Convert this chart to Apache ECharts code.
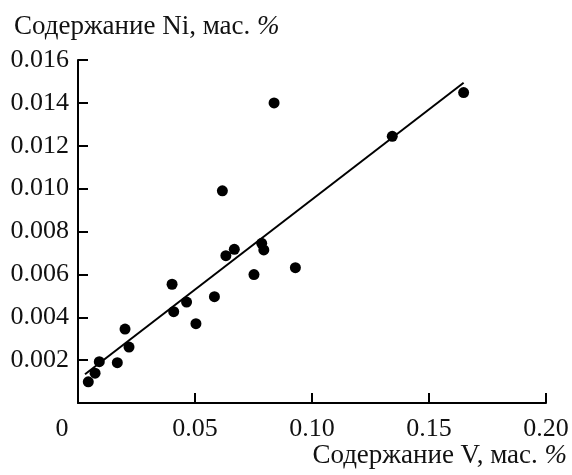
<!DOCTYPE html>
<html>
<head>
<meta charset="utf-8">
<script src="https://cdn.jsdelivr.net/npm/echarts@6/dist/echarts.min.js"></script>
<style>
  html, body { margin: 0; padding: 0; background: #fff; }
  #chart { width: 572px; height: 475px; }
</style>
</head>
<body>
<div id="chart"></div>
<script>
// Scatter data: V content vs Ni content (mass %)
const vValues = [0.0044, 0.0073, 0.0091, 0.0168, 0.0201, 0.0218, 0.0402, 0.0409, 0.0464, 0.0504,
  0.0583, 0.0617, 0.0632, 0.0668, 0.0752, 0.0785, 0.0794, 0.0838, 0.0929, 0.1343, 0.1648];
const niValues = [0.00099, 0.00139, 0.00193, 0.00188, 0.00345, 0.00261, 0.00554, 0.00426, 0.00471, 0.00370,
  0.00496, 0.00990, 0.00687, 0.00717, 0.00599, 0.00745, 0.00714, 0.01400, 0.00631, 0.01244, 0.01448];

// Regression line ends
const trendX = [0.003, 0.1648];
const trendY = [0.00134, 0.01494];

const xTicks = ["0", "0.05", "0.10", "0.15", "0.20"];

const font = '"Liberation Serif", "DejaVu Serif", serif';
const chart = echarts.init(document.getElementById("chart"));

const points = vValues.map((v, i) => [v, niValues[i]]);
const line = trendX.map((v, i) => [v, trendY[i]]);

const richName = {
  t: { fontFamily: font, fontSize: 27, color: "#111", fontWeight: "normal" },
  i: { fontFamily: font, fontSize: 27, color: "#111", fontWeight: "normal", fontStyle: "italic" },
};

const option = {
  animation: false,
  textStyle: { fontFamily: font },
  // axis titles: Ni top-left, V bottom-right
  title: [
    {
      text: "{t|Содержание Ni, мас. }{i|%}",
      left: 9,
      top: 8,
      textStyle: { fontWeight: "normal", rich: richName },
    },
    {
      text: "{t|Содержание V, мас. }{i|%}",
      right: 0,
      top: 437,
      textStyle: { fontWeight: "normal", rich: richName },
    },
  ],
  grid: { left: 78, right: 26, top: 60, bottom: 72, containLabel: false, outerBoundsMode: "none" },
  xAxis: {
    type: "value",
    min: 0,
    max: 0.2,
    interval: 0.05,
    axisLine: { show: true, onZero: false, lineStyle: { color: "#000", width: 2 } },
    axisTick: { show: true, inside: true, length: 10, lineStyle: { color: "#000", width: 2 } },
    splitLine: { show: false },
    axisLabel: {
      margin: 13,
      fontFamily: font,
      fontSize: 26,
      color: "#111",
      formatter: function (val) {
        const idx = Math.round(val / 0.05);
        if (idx === 0) return "{z|0}";
        return xTicks[idx];
      },
      rich: {
        z: { fontFamily: font, fontSize: 26, color: "#111", padding: [0, 32, 0, 0] },
      },
    },
  },
  yAxis: {
    type: "value",
    min: 0,
    max: 0.016,
    interval: 0.002,
    axisLine: { show: true, onZero: false, lineStyle: { color: "#000", width: 2 } },
    axisTick: { show: true, inside: true, length: 10, lineStyle: { color: "#000", width: 2 } },
    splitLine: { show: false },
    axisLabel: {
      margin: 9,
      fontFamily: font,
      fontSize: 26,
      color: "#111",
      showMinLabel: false,
      formatter: (val) => (val === 0 ? "" : val.toFixed(3)),
    },
  },
  series: [
    {
      type: "line",
      data: line,
      symbol: "none",
      lineStyle: { color: "#000", width: 2 },
      z: 1,
    },
    {
      type: "scatter",
      data: points,
      symbol: "circle",
      symbolSize: 11,
      itemStyle: { color: "#000", opacity: 1 },
      z: 2,
    },
  ],
};

chart.setOption(option);
</script>
</body>
</html>
